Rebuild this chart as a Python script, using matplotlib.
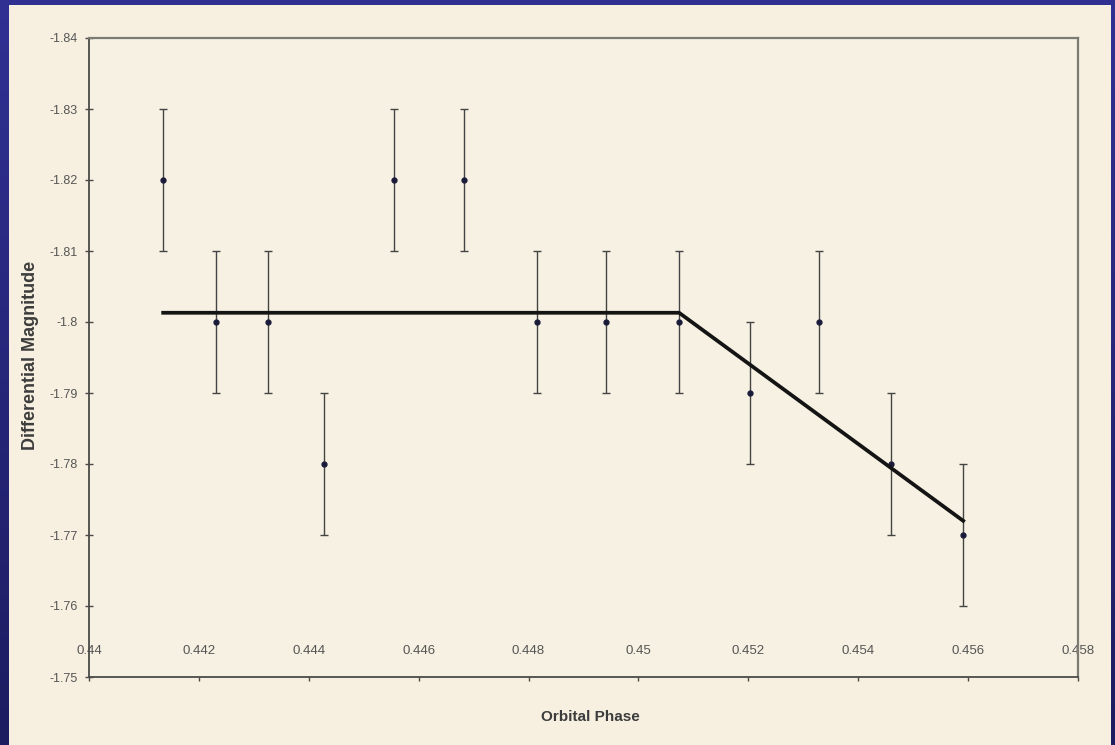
import numpy as np
import matplotlib
matplotlib.use("Agg")
import matplotlib.pyplot as plt
from matplotlib.patches import Rectangle
from matplotlib.ticker import FuncFormatter

# observed points (orbital phase, differential magnitude), error +/- 0.01
phase = [0.44135, 0.44231, 0.44326, 0.44428, 0.44555, 0.44682, 0.44815,
         0.44941, 0.45074, 0.45203, 0.45328, 0.45460, 0.45591]
mag = [-1.82, -1.80, -1.80, -1.78, -1.82, -1.82, -1.80,
       -1.80, -1.80, -1.79, -1.80, -1.78, -1.77]
mag_err = [0.01] * 13

# fitted model: flat then linear decline
fit_phase = [0.44135, 0.45074, 0.45591]
fit_mag = [-1.8013, -1.8013, -1.7720]

xticks = [0.44, 0.442, 0.444, 0.446, 0.448, 0.45, 0.452, 0.454, 0.456, 0.458]
yticks = [-1.84, -1.83, -1.82, -1.81, -1.80, -1.79, -1.78, -1.77, -1.76, -1.75]

plt.rcParams['font.family'] = ['Liberation Sans Narrow', 'Liberation Sans', 'DejaVu Sans']

W, H = 1115, 745
fig = plt.figure(figsize=(W / 100, H / 100), dpi=100)

# navy slide background with a soft vertical gradient
bg = fig.add_axes([0, 0, 1, 1], zorder=-10)
grad = np.linspace(0, 1, 256).reshape(-1, 1)
top = np.array([0.19, 0.19, 0.58])
bot = np.array([0.11, 0.11, 0.38])
img = top + (bot - top) * grad[:, :, None]
bg.imshow(img, aspect='auto', extent=[0, 1, 0, 1])
bg.set_axis_off()

# cream chart panel
fig.patches.append(Rectangle((9 / W, 0), (1111 - 9) / W, 1 - 5 / H,
                             transform=fig.transFigure, facecolor='#f7f0e0',
                             edgecolor='none', zorder=-5))

ax = fig.add_axes([89 / W, 1 - 677 / H, (1078 - 89) / W, (677 - 38) / H])
ax.set_facecolor('#f6f1e2')

ax.errorbar(phase, mag, yerr=mag_err, fmt='none', ecolor='#444444',
            elinewidth=1.0, capsize=3, capthick=1.0, zorder=2)
ax.plot(phase, mag, 'o', color='#1b1b3a', markersize=3.5, zorder=3)
ax.plot(fit_phase, fit_mag, color='#141414', linewidth=2.7, zorder=4)

ax.set_xlim(0.44, 0.458)
ax.set_ylim(-1.75, -1.84)
ax.set_xticks(xticks)
ax.set_yticks(yticks)
fmt = FuncFormatter(lambda v, p: '%g' % round(v, 3))
ax.xaxis.set_major_formatter(fmt)
ax.yaxis.set_major_formatter(fmt)

for side in ['left', 'bottom']:
    ax.spines[side].set_color('#4a4a48')
    ax.spines[side].set_linewidth(1.3)
for side in ['top', 'right']:
    ax.spines[side].set_color('#7c7c74')
    ax.spines[side].set_linewidth(1.6)

ax.tick_params(axis='y', direction='inout', length=6, width=1, color='#4a4a48',
               labelsize=9, labelcolor='#555555', pad=5)
ax.tick_params(axis='x', direction='out', length=3, width=1, color='#4a4a48',
               labelsize=9.5, labelcolor='#555555', pad=-26)

ax.set_ylabel('Differential Magnitude', fontsize=13, fontweight='bold', color='#3c3c3c')
ax.yaxis.set_label_coords(-0.051, 0.504)
ax.set_xlabel('Orbital Phase', fontsize=11, fontweight='bold', color='#3c3c3c')
ax.xaxis.set_label_coords(0.5066, -0.051)

fig.savefig('out.png', dpi=100)
